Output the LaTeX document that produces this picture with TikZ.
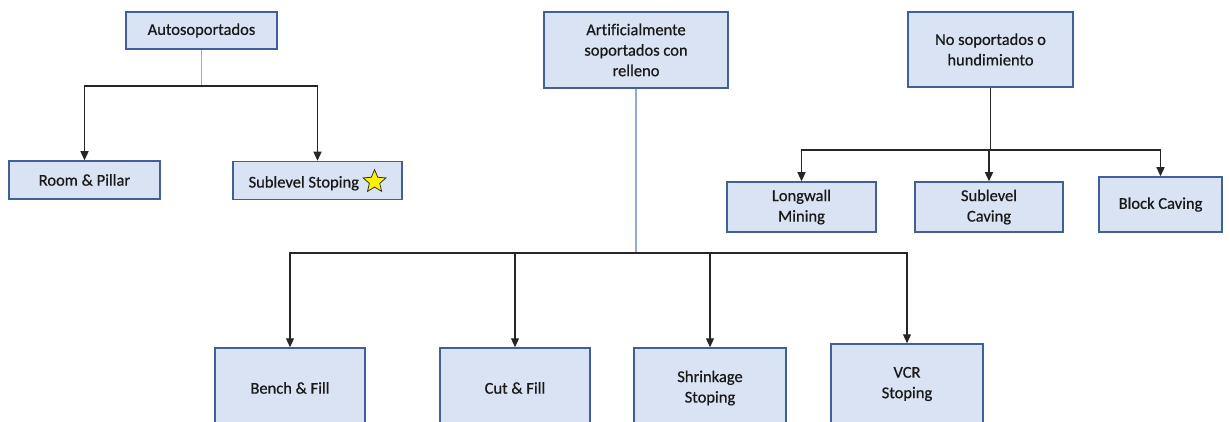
\documentclass[tikz,border=0pt]{standalone}
\usepackage{fontspec}
\setmainfont{Carlito}[BoldFont=Carlito, BoldFeatures={FakeBold=0.6}, Ligatures=NoCommon]
\usetikzlibrary{
	arrows.meta,
	shapes.geometric
}
\definecolor{relleno}{HTML}{DAE3F3}
\definecolor{borde}{HTML}{41609A}
\definecolor{celeste}{HTML}{8FAADC}

\begin{document}
\begin{tikzpicture}[x=1pt, y=-1pt,
  caja/.style={rectangle, draw=borde, fill=relleno, line width=1.5pt,
    align=center, inner sep=2pt, text=black!90,
    font=\fontsize{16.5}{20.5}\selectfont\bfseries},
  tronco/.style={draw=celeste, line width=1.2pt},
  rama/.style={draw=black!85, line width=1.2pt, -{Triangle[length=9pt, width=8pt]}}
]
\clip (0,0) rectangle (1230,422);

% familias
\node[caja, minimum width=151pt, minimum height=37pt] (auto) at (201.5,30.5) {Autosoportados};
\node[caja, minimum width=184pt, minimum height=76pt] (art) at (636,50)
  {Artificialmente\\soportados con\\relleno};
\node[caja, minimum width=165pt, minimum height=75pt] (nosop) at (990.5,49.5)
  {No soportados o\\hundimiento};

% metodos
\node[caja, minimum width=151pt, minimum height=38pt] (room) at (84.5,180) {Room \& Pillar};
\node[caja, minimum width=169pt, minimum height=38pt] (subst) at (317.5,180.5)
  {Sublevel Stoping \tikz[baseline=-0.75ex]\node[star, star points=5, star point ratio=2.2,
    fill=yellow, draw=black!80, line width=0.8pt, inner sep=0pt, minimum size=24pt]{};};
\node[caja, minimum width=149pt, minimum height=50pt] (long) at (801.5,207) {Longwall\\Mining};
\node[caja, minimum width=148pt, minimum height=50pt] (subcav) at (989,207) {Sublevel\\Caving};
\node[caja, minimum width=123pt, minimum height=55pt] (block) at (1160.5,204.5) {Block Caving};
\node[caja, minimum width=150pt, minimum height=80pt] (bench) at (290,388) {Bench \& Fill};
\node[caja, minimum width=150pt, minimum height=80pt] (cut) at (515,388) {Cut \& Fill};
\node[caja, minimum width=152pt, minimum height=80pt] (shrink) at (710,388) {Shrinkage\\Stoping};
\node[caja, minimum width=152pt, minimum height=80pt] (vcr) at (907,384) {VCR\\Stoping};

% puntos de reparto
\coordinate (autobus) at (201.5,86);
\coordinate (artbus) at (636,253);
\coordinate (nosopbus) at (990.5,150);

\draw[tronco] (auto) -- (autobus);
\draw[tronco] (art) -- (artbus);
\draw[draw=black!85, line width=1.2pt] (nosop) -- (nosopbus);

\foreach \hijo in {room,subst}
  \draw[rama] (autobus) -| (\hijo);
\foreach \hijo in {bench,cut,shrink,vcr}
  \draw[rama] (artbus) -| (\hijo);
\foreach \hijo in {long,subcav,block}
  \draw[rama] (nosopbus) -| (\hijo);
\end{tikzpicture}
\end{document}
